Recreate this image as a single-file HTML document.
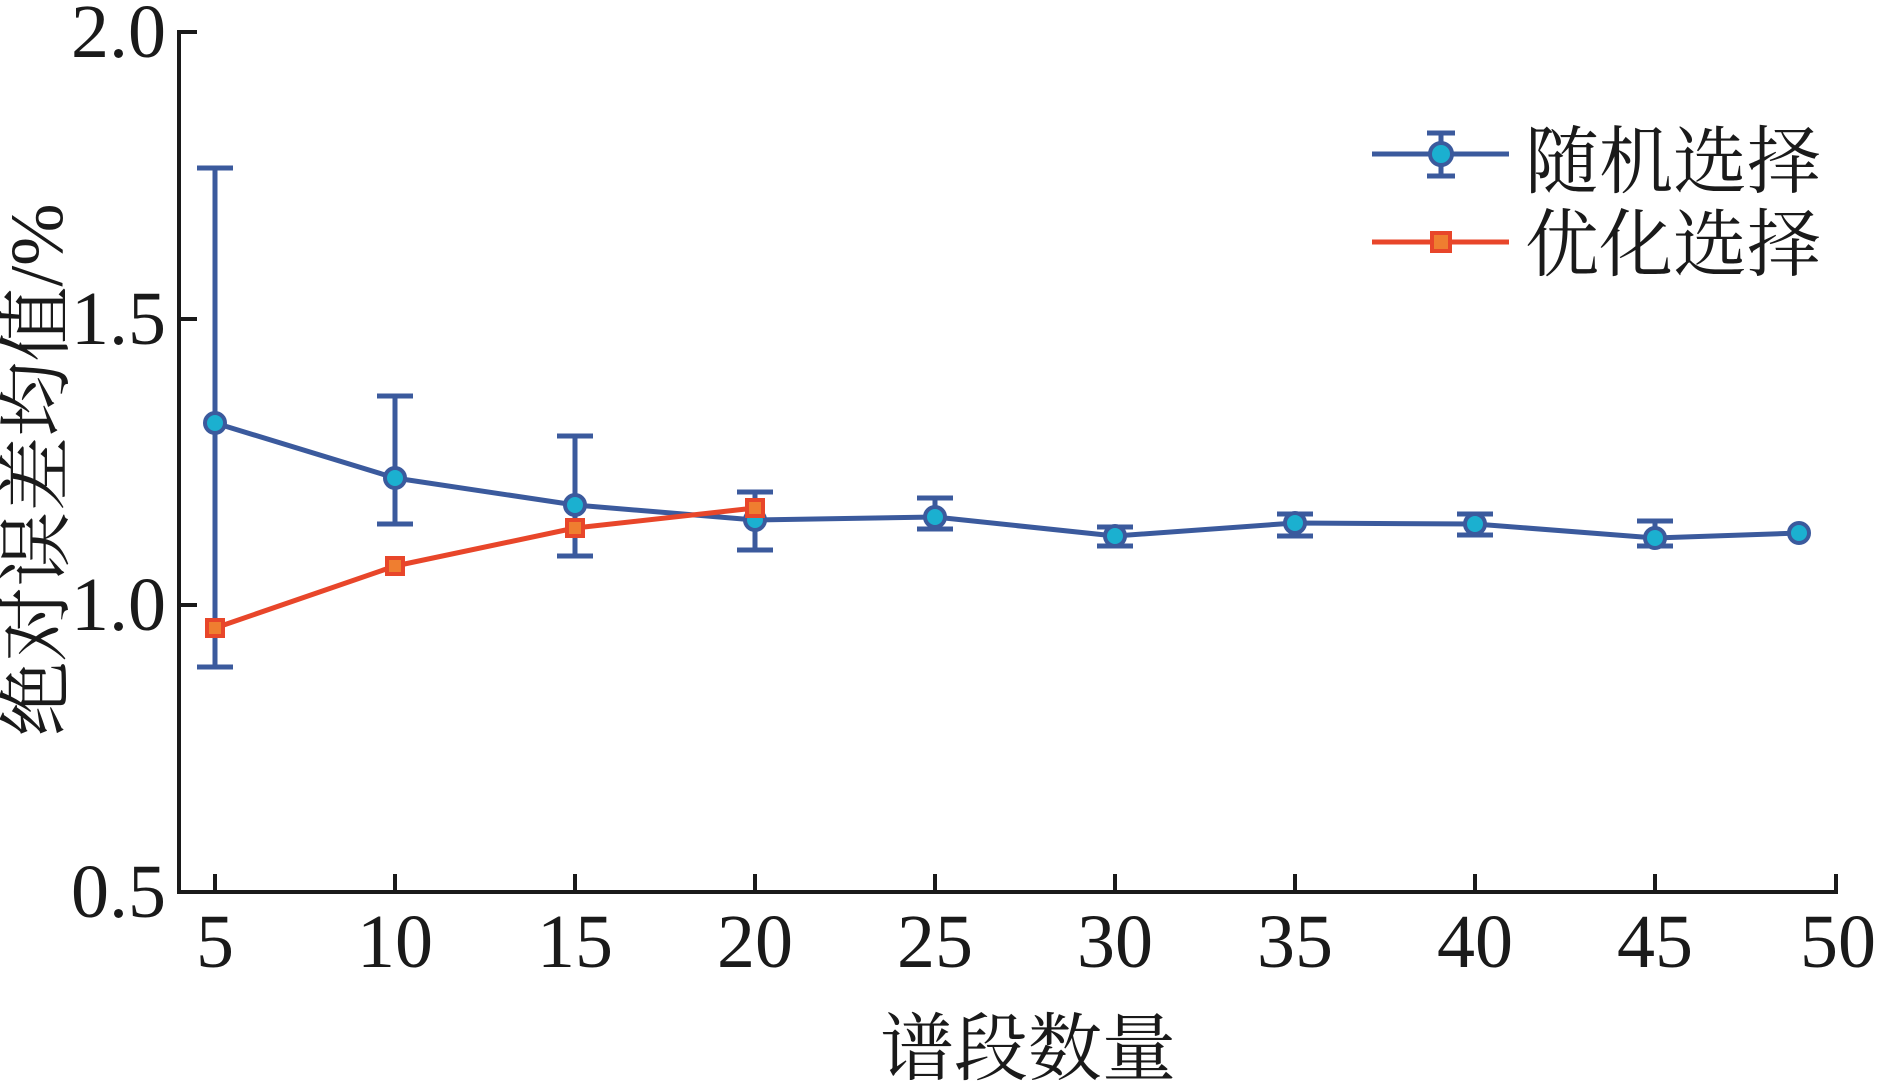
<!DOCTYPE html>
<html><head><meta charset="utf-8"><style>
html,body{margin:0;padding:0;background:#fff;}
svg{display:block;}
</style></head><body>
<svg width="1883" height="1088" viewBox="0 0 1883 1088" xmlns="http://www.w3.org/2000/svg">
<rect width="1883" height="1088" fill="#fff"/>
<!-- axes -->
<g stroke="#1a1a1a" stroke-width="4" fill="none">
<line x1="179" y1="30" x2="179" y2="894"/>
<line x1="177" y1="892" x2="1838" y2="892"/>
<line x1="179" y1="32" x2="197" y2="32"/>
<line x1="179" y1="319" x2="197" y2="319"/>
<line x1="179" y1="605" x2="197" y2="605"/>
<line x1="215" y1="892" x2="215" y2="874"/>
<line x1="395" y1="892" x2="395" y2="874"/>
<line x1="575" y1="892" x2="575" y2="874"/>
<line x1="755" y1="892" x2="755" y2="874"/>
<line x1="935" y1="892" x2="935" y2="874"/>
<line x1="1115" y1="892" x2="1115" y2="874"/>
<line x1="1295" y1="892" x2="1295" y2="874"/>
<line x1="1475" y1="892" x2="1475" y2="874"/>
<line x1="1655" y1="892" x2="1655" y2="874"/>
<line x1="1836" y1="892" x2="1836" y2="874"/>
</g>
<g font-family="'Liberation Serif','Times New Roman',Times,serif" font-size="76" fill="#1a1a1a" text-anchor="end">
<text x="166" y="57">2.0</text>
<text x="166" y="344">1.5</text>
<text x="166" y="630">1.0</text>
<text x="166" y="917">0.5</text>
</g>
<g font-family="'Liberation Serif','Times New Roman',Times,serif" font-size="76" fill="#1a1a1a" text-anchor="middle">
<text x="215" y="967">5</text>
<text x="395" y="967">10</text>
<text x="575" y="967">15</text>
<text x="755" y="967">20</text>
<text x="935" y="967">25</text>
<text x="1115" y="967">30</text>
<text x="1295" y="967">35</text>
<text x="1475" y="967">40</text>
<text x="1655" y="967">45</text>
<text x="1838" y="967">50</text>
</g>
<text x="1028" y="1074" font-family="'Liberation Serif','Noto Serif CJK SC',serif" font-size="74" fill="#1a1a1a" text-anchor="middle">谱段数量</text>
<text transform="translate(62,470) rotate(-90)" x="0" y="0" font-family="'Liberation Serif','Noto Serif CJK SC',serif" font-size="75" fill="#1a1a1a" text-anchor="middle">绝对误差均值/%</text>

<!-- error bars -->
<g stroke="#3B5A9D" stroke-width="5" fill="none">
<path d="M215 168V667M197 168H233M197 667H233"/>
<path d="M395 396V524M377 396H413M377 524H413"/>
<path d="M575 436V556M557 436H593M557 556H593"/>
<path d="M755 492V550M737 492H773M737 550H773"/>
<path d="M935 498V529M917 498H953M917 529H953"/>
<path d="M1115 527V546M1097 527H1133M1097 546H1133"/>
<path d="M1295 514V536M1277 514H1313M1277 536H1313"/>
<path d="M1475 514V535M1457 514H1493M1457 535H1493"/>
<path d="M1655 521V546M1637 521H1673M1637 546H1673"/>
</g>
<!-- random line -->
<polyline points="215,423 395,478 575,505 755,520 935,517 1115,536 1295,523 1475,524 1655,538 1799,533" fill="none" stroke="#3B5A9D" stroke-width="5" stroke-linejoin="round"/>
<g fill="#1BB0D0" stroke="#3B5A9D" stroke-width="4">
<circle cx="215" cy="423" r="10"/>
<circle cx="395" cy="478" r="10"/>
<circle cx="575" cy="505" r="10"/>
<circle cx="755" cy="520" r="10"/>
<circle cx="935" cy="517" r="10"/>
<circle cx="1115" cy="536" r="10"/>
<circle cx="1295" cy="523" r="10"/>
<circle cx="1475" cy="524" r="10"/>
<circle cx="1655" cy="538" r="10"/>
<circle cx="1799" cy="533" r="10"/>
</g>
<!-- optimized line -->
<polyline points="215,628 395,566 575,528 755,508" fill="none" stroke="#E8462A" stroke-width="5" stroke-linejoin="round"/>
<g fill="#EF7E30" stroke="#E8462A" stroke-width="4">
<rect x="207" y="620" width="16" height="16"/>
<rect x="387" y="558" width="16" height="16"/>
<rect x="567" y="520" width="16" height="16"/>
<rect x="747" y="500" width="16" height="16"/>
</g>

<!-- legend -->
<line x1="1372" y1="154" x2="1509" y2="154" stroke="#3B5A9D" stroke-width="5"/>
<path d="M1441 133V176M1427 133H1455M1427 176H1455" stroke="#3B5A9D" stroke-width="5" fill="none"/>
<circle cx="1441" cy="154" r="11" fill="#1BB0D0" stroke="#3B5A9D" stroke-width="4"/>
<line x1="1372" y1="242" x2="1509" y2="242" stroke="#E8462A" stroke-width="5"/>
<rect x="1432" y="233" width="18" height="18" fill="#EF7E30" stroke="#E8462A" stroke-width="4"/>
<g font-family="'Liberation Serif','Noto Serif CJK SC',serif" font-size="74" fill="#1a1a1a">
<text x="1525" y="187">随机选择</text>
<text x="1525" y="270">优化选择</text>
</g>
</svg>
</body></html>
